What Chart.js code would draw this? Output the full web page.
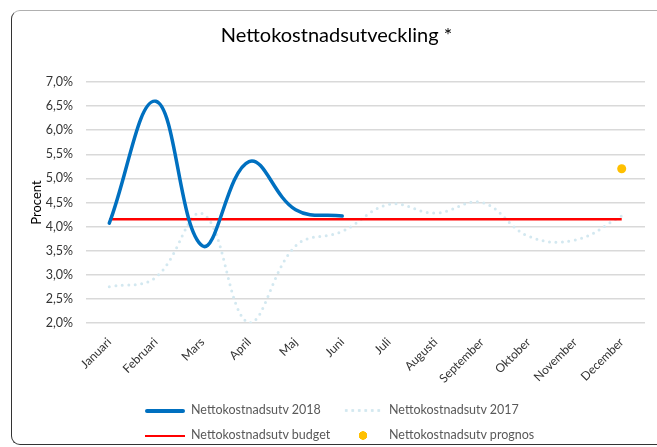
<!DOCTYPE html>
<html>
<head>
<meta charset="utf-8">
<script src="https://cdn.jsdelivr.net/npm/chart.js@4/dist/chart.umd.min.js"></script>
<style>
  body { margin: 0; background: #fff; font-family: Lato, sans-serif; }
  #wrap { position: relative; width: 657px; height: 447px; overflow: hidden; }
  #frame {
    position: absolute; left: 11px; top: 10px; width: 660px; height: 433px;
    border-top: 1px solid #b0b0b0; border-left: 1.5px solid #333;
    border-bottom: 1px solid #333;
    border-radius: 9px 0 0 9px;
  }
  canvas { position: absolute; left: 0; top: 0; }
  .lg { position: absolute; font-size: 12.5px; color: #595959; white-space: nowrap; }
  .lg span.s { display: inline-block; vertical-align: middle; margin-right: 6px; }
</style>
</head>
<body>
<div id="wrap">
  <div id="frame"></div>
  <canvas id="chart" width="657" height="447"></canvas>
  <div class="lg" style="left:145px;top:402px"><span class="s" style="width:40px;height:3.5px;background:#0070C0;border-radius:2px"></span>Nettokostnadsutv 2018</div>
  <div class="lg" style="left:343px;top:402px"><span class="s" style="width:40px;height:3px;background:radial-gradient(circle,#d3e8f0 1.3px,transparent 1.6px) 0 0/6.5px 3px repeat-x"></span>Nettokostnadsutv 2017</div>
  <div class="lg" style="left:145px;top:427px"><span class="s" style="width:40px;height:2px;background:#ff0000"></span>Nettokostnadsutv budget</div>
  <div class="lg" style="left:343px;top:427px"><span class="s" style="width:40px;height:9px;background:radial-gradient(circle,#FFC000 4px,transparent 4.5px) center/40px 9px no-repeat"></span>Nettokostnadsutv prognos</div>
</div>
<script>
const months = ['Januari', 'Februari', 'Mars', 'April', 'Maj', 'Juni', 'Juli', 'Augusti', 'September', 'Oktober', 'November', 'December'];
const utv2018 = [4.07, 6.6, 3.6, 5.35, 4.35, 4.22, null, null, null, null, null, null];
const utv2017 = [2.75, 2.95, 4.27, 2.0, 3.6, 3.9, 4.46, 4.28, 4.5, 3.8, 3.72, 4.22];
const budget = [4.15, 4.15, 4.15, 4.15, 4.15, 4.15, 4.15, 4.15, 4.15, 4.15, 4.15, 4.15];
const prognos = [null, null, null, null, null, null, null, null, null, null, null, 5.2];
const yTicks = [2.0, 2.5, 3.0, 3.5, 4.0, 4.5, 5.0, 5.5, 6.0, 6.5, 7.0];

const ctx = document.getElementById('chart').getContext('2d');
new Chart(ctx, {
  type: 'line',
  data: {
    labels: months,
    datasets: [
      { label: 'Nettokostnadsutv 2017', data: utv2017, borderColor: '#d3e8f0', borderWidth: 3,
        borderDash: [0, 6.5], borderCapStyle: 'round', tension: 0.4, pointRadius: 0, order: 3 },
      { label: 'Nettokostnadsutv budget', data: budget, borderColor: '#ff0000', borderWidth: 2.5,
        pointRadius: 0, order: 2 },
      { label: 'Nettokostnadsutv 2018', data: utv2018, borderColor: '#0070C0', borderWidth: 3.5,
        borderCapStyle: 'round', tension: 0.4, pointRadius: 0, spanGaps: false, order: 1 },
      { label: 'Nettokostnadsutv prognos', data: prognos, showLine: false, pointRadius: 4.5,
        pointBackgroundColor: '#FFC000', pointBorderWidth: 0, order: 0 }
    ]
  },
  options: {
    responsive: false,
    animation: false,
    layout: { padding: { left: 28, right: 12, top: 24, bottom: 0 } },
    plugins: {
      legend: { display: false },
      tooltip: { enabled: false },
      title: {
        display: true, text: 'Nettokostnadsutveckling *', color: '#000',
        font: { family: 'Lato', size: 20, weight: 'normal' }, padding: { top: 0, bottom: 34 }
      }
    },
    scales: {
      x: {
        offset: true,
        grid: { display: false },
        border: { display: false },
        afterFit: a => { a.height = 124; a.paddingLeft = 0; a.paddingRight = 0; },
        ticks: { color: '#333', font: { family: 'Lato', size: 12 }, maxRotation: 45, minRotation: 45, autoSkip: false, padding: 4 }
      },
      y: {
        min: 2, max: 7,
        afterBuildTicks: axis => { axis.ticks = yTicks.map(v => ({ value: v })); },
        afterFit: a => { a.width = 58; },
        grid: { color: '#d9d9d9', lineWidth: 1.5, drawTicks: false },
        border: { display: false },
        title: { display: true, text: 'Procent', color: '#000', font: { family: 'Lato', size: 13 }, padding: { top: 1, bottom: 0 } },
        ticks: {
          color: '#333', font: { family: 'Lato', size: 12.5 }, padding: 13,
          callback: v => v.toFixed(1).replace('.', ',') + '%'
        }
      }
    }
  }
});
</script>
</body>
</html>
